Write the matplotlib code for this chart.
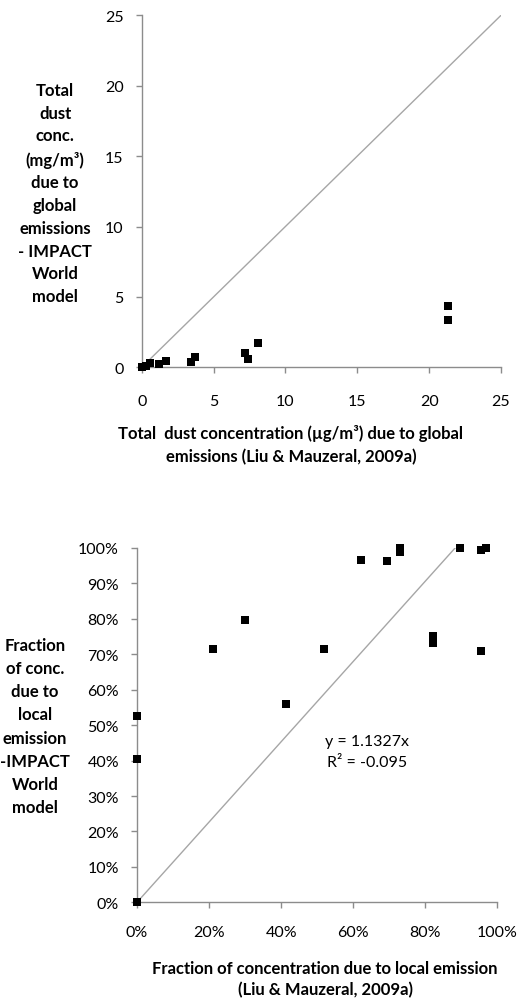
import matplotlib
matplotlib.use("Agg")
import matplotlib.pyplot as plt
from matplotlib.ticker import PercentFormatter, MultipleLocator
import numpy as np

plt.rcParams['font.family'] = ['Lato', 'DejaVu Sans']

# --- Top chart data: total dust concentration (ug/m3) ---
liu_total = [0.0, 0.3, 0.6, 1.2, 1.7, 3.4, 3.7, 7.2, 7.4, 8.1, 21.3, 21.3]
impact_total = [0.0, 0.1, 0.3, 0.25, 0.45, 0.4, 0.7, 1.0, 0.6, 1.7, 4.35, 3.35]
one_to_one = [0, 25]

# --- Bottom chart data: fraction due to local emission ---
liu_frac = [0.0, 0.0, 0.0, 0.212, 0.30, 0.414, 0.519, 0.621, 0.695, 0.730, 0.730,
            0.822, 0.822, 0.897, 0.955, 0.969, 0.955]
impact_frac = [0.525, 0.404, 0.0, 0.716, 0.798, 0.559, 0.714, 0.966, 0.964, 0.99, 1.0,
               0.751, 0.732, 1.0, 0.994, 1.0, 0.71]
slope = 1.1327
r2_text = "R² = -0.095"

W, H = 522, 1004
fig = plt.figure(figsize=(W / 100, H / 100), dpi=100)

def fx(px):
    return px / W

def fy(py):
    return 1 - py / H

axis_col = '#8c8c8c'
line_col = '#a6a6a6'
TICK_FS = 11.5
LAB_FS = 12

def style(ax, xpad, ypad):
    for s in ['top', 'right']:
        ax.spines[s].set_visible(False)
    for s in ['left', 'bottom']:
        ax.spines[s].set_color(axis_col)
        ax.spines[s].set_linewidth(1.0)
    ax.tick_params(axis='both', direction='out', length=4.5, width=1.0,
                   color=axis_col, labelsize=TICK_FS, labelcolor='black')
    ax.tick_params(axis='x', pad=xpad)
    ax.tick_params(axis='y', pad=ypad)

# Top axes
ax1 = fig.add_axes([fx(141.7), fy(368.3), fx(501 - 141.7), (368.3 - 16.3) / H])
ax1.plot(one_to_one, one_to_one, color=line_col, lw=1.0, zorder=1)
ax1.scatter(liu_total, impact_total, marker='s', s=40, color='black', zorder=3,
            clip_on=False, linewidths=0)
ax1.set_xlim(0, 25)
ax1.set_ylim(0, 25)
ax1.xaxis.set_major_locator(MultipleLocator(5))
ax1.yaxis.set_major_locator(MultipleLocator(5))
style(ax1, 15, 8.5)

fig.text(fx(55), fy(194), "Total\ndust\nconc.\n(mg/m³)\ndue to\nglobal\nemissions\n- IMPACT\nWorld\nmodel",
         ha='center', va='center', fontsize=LAB_FS, fontweight='bold', linespacing=1.52)
fig.text(fx(291), fy(445), "Total  dust concentration (µg/m³) due to global\nemissions (Liu & Mauzeral, 2009a)",
         ha='center', va='center', fontsize=LAB_FS, fontweight='bold', linespacing=1.55)

# Bottom axes
ax2 = fig.add_axes([fx(137), fy(903.3), fx(497.3 - 137), (903.3 - 549) / H])
xs = np.array([0, max(liu_frac)])
ax2.plot(xs, slope * xs, color=line_col, lw=1.0, zorder=1)
ax2.scatter(liu_frac, impact_frac, marker='s', s=40, color='black', zorder=3,
            clip_on=False, linewidths=0)
ax2.set_xlim(0, 1)
ax2.set_ylim(0, 1)
ax2.xaxis.set_major_locator(MultipleLocator(0.2))
ax2.yaxis.set_major_locator(MultipleLocator(0.1))
ax2.xaxis.set_major_formatter(PercentFormatter(1.0, decimals=0))
ax2.yaxis.set_major_formatter(PercentFormatter(1.0, decimals=0))
style(ax2, 12, 8.5)

ax2.text(0.6375, 0.456, "y = 1.1327x", transform=ax2.transAxes, ha='center', va='center', fontsize=TICK_FS)
ax2.text(0.6375, 0.395, r2_text, transform=ax2.transAxes, ha='center', va='center', fontsize=TICK_FS)

fig.text(fx(35), fy(727), "Fraction\nof conc.\ndue to\nlocal\nemission\n-IMPACT\nWorld\nmodel",
         ha='center', va='center', fontsize=LAB_FS, fontweight='bold', linespacing=1.55)
fig.text(fx(325), fy(980), "Fraction of concentration due to local emission\n(Liu & Mauzeral, 2009a)",
         ha='center', va='center', fontsize=LAB_FS, fontweight='bold', linespacing=1.38)

fig.savefig("out.png", dpi=100, facecolor='white')
